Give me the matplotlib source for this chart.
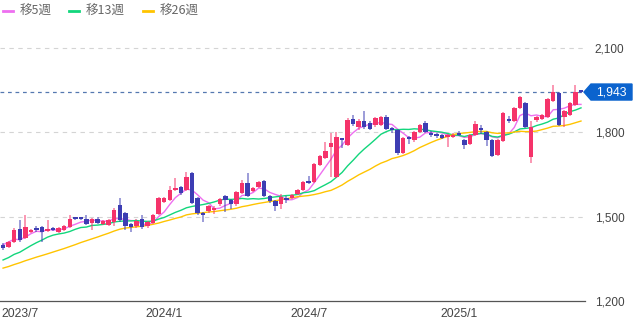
import numpy as np
import pandas as pd
import matplotlib
matplotlib.use('Agg')
import matplotlib.pyplot as plt
import matplotlib.transforms as mtransforms
from matplotlib.lines import Line2D
from matplotlib.patches import Polygon

plt.rcParams['font.family'] = ['Liberation Sans', 'Noto Sans CJK JP', 'DejaVu Sans']

# weekly candles, first week starts 2023-06-12
opens = [1399, 1392, 1410, 1456, 1424, 1446, 1460, 1463, 1450, 1460,
         1446, 1453, 1463, 1495, 1495, 1492, 1477, 1492, 1474, 1470,
         1481, 1542, 1513, 1474, 1467, 1492, 1467, 1478, 1510, 1552,
         1560, 1595, 1606, 1595, 1656, 1567, 1513, 1520, 1524, 1545,
         1574, 1560, 1545, 1584, 1620, 1592, 1606, 1627, 1574, 1556,
         1545, 1567, 1567, 1581, 1595, 1624, 1624, 1684, 1709, 1748,
         1641, 1780, 1755, 1848, 1819, 1841, 1834, 1827, 1827, 1855,
         1816, 1809, 1727, 1784, 1773, 1802, 1834, 1798, 1795, 1791,
         1784, 1784, 1798, 1773, 1759, 1791, 1816, 1802, 1773, 1720,
         1770, 1848, 1841, 1887, 1905, 1712, 1844, 1848, 1855, 1912,
         1940, 1855, 1862, 1898, 1944]
highs = [1406, 1413, 1460, 1488, 1506, 1456, 1467, 1467, 1488, 1463,
         1463, 1470, 1506, 1499, 1497, 1506, 1495, 1497, 1488, 1492,
         1530, 1567, 1517, 1478, 1490, 1506, 1485, 1510, 1570, 1570,
         1610, 1638, 1610, 1658, 1660, 1570, 1517, 1542, 1538, 1567,
         1578, 1563, 1592, 1631, 1656, 1606, 1627, 1631, 1578, 1560,
         1581, 1574, 1581, 1599, 1627, 1645, 1691, 1720, 1766, 1798,
         1801, 1780, 1851, 1862, 1848, 1876, 1841, 1855, 1859, 1862,
         1819, 1812, 1784, 1787, 1805, 1830, 1841, 1805, 1798, 1795,
         1795, 1798, 1805, 1777, 1795, 1841, 1827, 1805, 1777, 1777,
         1873, 1859, 1891, 1930, 1909, 1841, 1859, 1866, 1923, 1969,
         1944, 1880, 1909, 1969, 1948]
lows = [1382, 1389, 1406, 1410, 1420, 1442, 1446, 1410, 1446, 1449,
        1442, 1449, 1460, 1488, 1488, 1470, 1453, 1474, 1470, 1467,
        1467, 1481, 1453, 1446, 1460, 1456, 1460, 1474, 1506, 1549,
        1556, 1592, 1578, 1592, 1545, 1506, 1481, 1513, 1510, 1538,
        1517, 1527, 1538, 1581, 1570, 1588, 1602, 1570, 1549, 1520,
        1527, 1549, 1563, 1577, 1592, 1616, 1620, 1680, 1706, 1641,
        1638, 1745, 1750, 1823, 1809, 1812, 1809, 1819, 1823, 1809,
        1798, 1720, 1723, 1759, 1766, 1798, 1798, 1784, 1780, 1777,
        1748, 1780, 1787, 1741, 1755, 1787, 1795, 1750, 1712, 1716,
        1766, 1834, 1838, 1884, 1816, 1691, 1838, 1844, 1851, 1909,
        1823, 1819, 1858, 1894, 1940]
closes = [1389, 1410, 1453, 1417, 1463, 1453, 1453, 1446, 1456, 1453,
          1460, 1467, 1492, 1492, 1492, 1474, 1492, 1478, 1485, 1488,
          1524, 1488, 1467, 1463, 1485, 1463, 1481, 1506, 1567, 1567,
          1595, 1602, 1584, 1641, 1549, 1513, 1506, 1538, 1531, 1563,
          1560, 1545, 1588, 1620, 1574, 1602, 1624, 1574, 1556, 1538,
          1570, 1560, 1577, 1595, 1624, 1620, 1687, 1716, 1734, 1762,
          1784, 1773, 1844, 1830, 1841, 1819, 1812, 1851, 1855, 1812,
          1809, 1727, 1780, 1777, 1802, 1827, 1802, 1791, 1788, 1780,
          1791, 1791, 1791, 1755, 1791, 1830, 1809, 1773, 1716, 1773,
          1869, 1841, 1887, 1926, 1819, 1820, 1855, 1862, 1919, 1944,
          1827, 1876, 1905, 1944, 1943]

# closes of the 25 weeks before the window, only feed the moving averages
pre_closes = [1262, 1270, 1255, 1275, 1290, 1283, 1295, 1300, 1288, 1296,
              1305, 1312, 1313, 1298, 1305, 1320, 1310, 1302, 1315, 1325,
              1321, 1360, 1405, 1425, 1421]

ma_windows = [5, 13, 26]
ma_labels = ['移5週', '移13週', '移26週']
ma_colors = ['#ee6ff0', '#12d67c', '#ffc400']
last_price = 1943
y_ticks = [1200, 1500, 1800, 2100]

W, H = 641, 332
fig = plt.figure(figsize=(W / 100, H / 100), dpi=100)
ax = fig.add_axes([0, 31 / H, 585 / W, 270 / H])

n = len(closes)
x = np.arange(n)
o = np.array(opens, float)
c = np.array(closes, float)
hi = np.array(highs, float)
lo = np.array(lows, float)
dates = pd.date_range('2023-06-12', periods=n, freq='W-MON')

# moving averages
allc = pd.Series(pre_closes + closes, dtype=float)
for win, col in zip(ma_windows, ma_colors):
    ma = allc.rolling(win).mean().to_numpy()[-n:]
    ax.plot(x, ma, color=col, lw=1.0, zorder=2)

up = c >= o
red, blue = '#f5336a', '#3d3db3'
cols = np.where(up, red, blue)
ax.vlines(x, lo, hi, colors=cols, lw=1.3, alpha=0.55, zorder=3)
bottom = np.minimum(o, c)
height = np.maximum(np.abs(c - o), 7)
ax.bar(x, height, bottom=bottom, width=0.8, color=cols, lw=0, zorder=4)

ax.set_xlim(-0.55, n - 1 + 0.72)
ax.set_ylim(1200, 2160)

# price line and tag
ax.axhline(last_price, color='#5578b0', lw=0.9, ls=(0, (3, 3)), zorder=1)
tr = mtransforms.blended_transform_factory(fig.transFigure, ax.transData)
hh = 8 * 960 / 270
tag = Polygon([(584 / W, last_price), (591 / W, last_price + hh), (632 / W, last_price + hh),
               (632 / W, last_price - hh), (591 / W, last_price - hh)],
              closed=True, transform=tr, color='#0b63ce', clip_on=False)
fig.add_artist(tag)
fig.text(611 / W, last_price, f'{last_price:,}', transform=tr, color='white',
         fontsize=8.8, ha='center', va='center')

# axes styling
ax.yaxis.tick_right()
ax.set_yticks(y_ticks)
ax.set_yticklabels([f'{v:,}' for v in y_ticks])
ax.tick_params(axis='y', length=0, pad=7, labelsize=8.5, labelcolor='#444444')
tick_idx = [i for i in range(n) if dates[i].month in (1, 7) and dates[i].day <= 7]
ax.set_xticks(tick_idx)
ax.set_xticklabels([f'{dates[i].year}/{dates[i].month}' for i in tick_idx])
ax.tick_params(axis='x', length=0, pad=5, labelsize=8.7, labelcolor='#444444')
for s in ['top', 'right', 'left']:
    ax.spines[s].set_visible(False)
ax.spines['bottom'].set_color('#555555')
ax.spines['bottom'].set_linewidth(0.9)
for v in y_ticks[1:]:
    ax.axhline(v, color='#d4d4d4', lw=0.8, ls=(0, (4, 4)), zorder=0)

# legend
ly = 1 - 11 / H
lx = [3, 69, 143]
for px, lab, col in zip(lx, ma_labels, ma_colors):
    fig.add_artist(Line2D([px / W, (px + 10) / W], [ly, ly], transform=fig.transFigure,
                          color=col, lw=2))
    fig.text((px + 17) / W, ly, lab, color='#666666', fontsize=9, va='center',
             family=['Noto Sans CJK JP', 'DejaVu Sans'])

fig.savefig('out.png', dpi=100)
